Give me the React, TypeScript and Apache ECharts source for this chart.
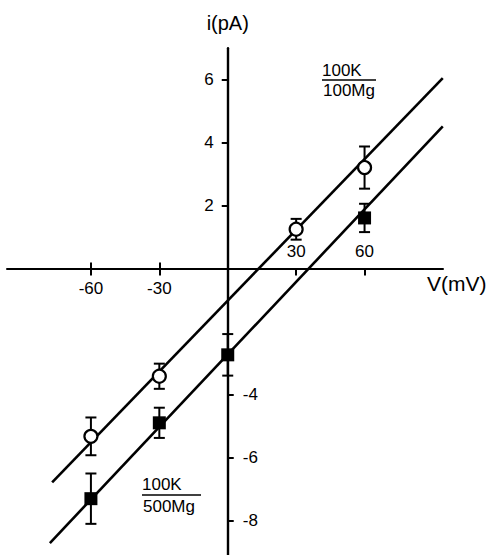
import React, { useEffect, useRef } from "react";
import * as echarts from "echarts";

// Open circles: 100K / 100Mg
const openVoltages = [-60, -30, 30, 60];
const openCurrents = [-5.33, -3.42, 1.25, 3.21];
const openErrors = [0.6, 0.4, 0.33, 0.67];

// Filled squares: 100K / 500Mg
const filledVoltages = [-60, -30, 0, 60];
const filledCurrents = [-7.31, -4.9, -2.74, 1.61];
const filledErrors = [0.8, 0.48, 0.66, 0.45];

// Regression line end points [mV, pA]
const openFitLine = [
  [-77, -6.79],
  [94.3, 6.05],
];
const filledFitLine = [
  [-78, -8.72],
  [94.3, 4.52],
];

// Tick labels
const xTicksNegative = [-60, -30];
const xTicksPositive = [30, 60];
const yTicksPositive = [2, 4, 6];
const yTicksNegative = [-4, -6, -8];

const FONT = '"Liberation Sans", Arial, Helvetica, sans-serif';
const INK = "#000";

const X_MIN = -96.8;
const X_MAX = 94.4;
const Y_MIN = -9.3;
const Y_MAX = 7;

// Plot rectangle in pixels
const PLOT_LEFT = 7;
const PLOT_TOP = 48.3;
const PLOT_W = 436;
const PLOT_H = 513;
const X0 = PLOT_LEFT + ((0 - X_MIN) / (X_MAX - X_MIN)) * PLOT_W;
const Y0 = PLOT_TOP + ((Y_MAX - 0) / (Y_MAX - Y_MIN)) * PLOT_H;

function errorBarSeries(xs: number[], ys: number[], errs: number[]) {
  return {
    type: "custom",
    z: 3,
    xAxisIndex: 0,
    yAxisIndex: 0,
    data: xs.map((x, i) => [x, ys[i], errs[i]]),
    encode: { x: 0, y: 1 },
    renderItem: (_params: any, api: any) => {
      const x = api.value(0);
      const y = api.value(1);
      const e = api.value(2);
      const top = api.coord([x, y + e]);
      const bot = api.coord([x, y - e]);
      const half = 5.5;
      const style = { stroke: INK, lineWidth: 2 };
      return {
        type: "group",
        children: [
          { type: "line", shape: { x1: top[0], y1: top[1], x2: bot[0], y2: bot[1] }, style },
          { type: "line", shape: { x1: top[0] - half, y1: top[1], x2: top[0] + half, y2: top[1] }, style },
          { type: "line", shape: { x1: bot[0] - half, y1: bot[1], x2: bot[0] + half, y2: bot[1] }, style },
        ],
      };
    },
  };
}

export default function App() {
  const ref = useRef<HTMLDivElement>(null);

  useEffect(() => {
    if (!ref.current) return;
    const chart = echarts.init(ref.current, undefined, { renderer: "svg" });

    const labelStyle = { color: INK, fontFamily: FONT, fontSize: 17 };
    const axisLine = { show: true, onZero: false, lineStyle: { color: INK, width: 2 } };
    const tickLine = { color: INK, width: 2 };
    const hidden = { show: false };
    const baseGrid = { outerBoundsMode: "none", containLabel: false, show: false };

    chart.setOption({
      animation: false,
      backgroundColor: "#fff",
      grid: [
        // 0: data area
        { ...baseGrid, left: PLOT_LEFT, top: PLOT_TOP, width: PLOT_W, height: PLOT_H },
        // 1: lower-left quadrant (negative V, negative i)
        { ...baseGrid, left: PLOT_LEFT, top: Y0, width: X0 - PLOT_LEFT, height: PLOT_TOP + PLOT_H - Y0 },
        // 2: upper-right quadrant (positive V, positive i)
        { ...baseGrid, left: X0, top: PLOT_TOP, width: PLOT_LEFT + PLOT_W - X0, height: Y0 - PLOT_TOP },
        // 3: upper-left quadrant (upper half of the crossing ticks)
        { ...baseGrid, left: PLOT_LEFT, top: PLOT_TOP, width: X0 - PLOT_LEFT, height: Y0 - PLOT_TOP },
      ],
      xAxis: [
        { type: "value", gridIndex: 0, min: X_MIN, max: X_MAX, show: false },
        {
          type: "value",
          gridIndex: 1,
          min: X_MIN,
          max: 0,
          position: "top",
          axisLine,
          axisTick: { show: true, inside: true, length: 7, customValues: xTicksNegative, lineStyle: tickLine },
          axisLabel: { show: true, inside: true, margin: 11, customValues: xTicksNegative, ...labelStyle },
          splitLine: hidden,
        },
        {
          type: "value",
          gridIndex: 2,
          min: 0,
          max: X_MAX,
          position: "bottom",
          axisLine,
          axisTick: { show: true, inside: false, length: 7, customValues: xTicksPositive, lineStyle: tickLine },
          axisLabel: { show: true, inside: true, margin: 9, customValues: xTicksPositive, ...labelStyle },
          splitLine: hidden,
          name: "V(mV)",
          nameLocation: "end",
          nameGap: -16,
          nameTextStyle: {
            color: INK,
            fontFamily: FONT,
            fontSize: 21,
            align: "left",
            verticalAlign: "top",
            padding: [4, 0, 0, 0],
          },
        },
        {
          type: "value",
          gridIndex: 3,
          min: X_MIN,
          max: 0,
          position: "bottom",
          axisLine: hidden,
          axisTick: { show: true, inside: true, length: 6, customValues: xTicksNegative, lineStyle: tickLine },
          axisLabel: hidden,
          splitLine: hidden,
        },
      ],
      yAxis: [
        { type: "value", gridIndex: 0, min: Y_MIN, max: Y_MAX, show: false },
        {
          type: "value",
          gridIndex: 1,
          min: Y_MIN,
          max: 0,
          position: "right",
          axisLine: { ...axisLine, lineStyle: { color: INK, width: 2.4 } },
          axisTick: { show: true, length: 6, customValues: yTicksNegative, lineStyle: tickLine },
          axisLabel: { show: true, margin: 15, customValues: yTicksNegative, ...labelStyle },
          splitLine: hidden,
        },
        {
          type: "value",
          gridIndex: 2,
          min: 0,
          max: Y_MAX,
          position: "left",
          axisLine: { ...axisLine, lineStyle: { color: INK, width: 2.4 } },
          axisTick: { show: true, length: 6, customValues: yTicksPositive, lineStyle: tickLine },
          axisLabel: { show: true, margin: 14, customValues: yTicksPositive, ...labelStyle },
          splitLine: hidden,
          name: "i(pA)",
          nameLocation: "end",
          nameGap: 15,
          nameTextStyle: {
            color: INK,
            fontFamily: FONT,
            fontSize: 20,
            align: "center",
            verticalAlign: "bottom",
          },
        },
        { type: "value", gridIndex: 3, min: 0, max: Y_MAX, show: false },
      ],
      graphic: [
        {
          type: "group",
          children: [
            { type: "text", left: 322, top: 62, style: { text: "100K", font: `17px ${FONT}`, fill: INK } },
            { type: "line", shape: { x1: 322, y1: 80, x2: 376, y2: 80 }, style: { stroke: INK, lineWidth: 1.6 } },
            { type: "text", left: 323, top: 82, style: { text: "100Mg", font: `17px ${FONT}`, fill: INK } },
            { type: "text", left: 142, top: 476, style: { text: "100K", font: `17px ${FONT}`, fill: INK } },
            { type: "line", shape: { x1: 142, y1: 495, x2: 201, y2: 495 }, style: { stroke: INK, lineWidth: 1.6 } },
            { type: "text", left: 143, top: 498, style: { text: "500Mg", font: `17px ${FONT}`, fill: INK } },
          ],
        },
      ],
      series: [
        {
          type: "line",
          xAxisIndex: 0,
          yAxisIndex: 0,
          data: openFitLine,
          symbol: "none",
          z: 2,
          lineStyle: { color: INK, width: 2.6 },
        },
        {
          type: "line",
          xAxisIndex: 0,
          yAxisIndex: 0,
          data: filledFitLine,
          symbol: "none",
          z: 2,
          lineStyle: { color: INK, width: 2.6 },
        },
        errorBarSeries(openVoltages, openCurrents, openErrors),
        errorBarSeries(filledVoltages, filledCurrents, filledErrors),
        {
          type: "scatter",
          xAxisIndex: 0,
          yAxisIndex: 0,
          z: 4,
          data: openVoltages.map((v, i) => [v, openCurrents[i]]),
          symbol: "circle",
          symbolSize: 13,
          itemStyle: { color: "#fff", borderColor: INK, borderWidth: 2.2, opacity: 1 },
        },
        {
          type: "scatter",
          xAxisIndex: 0,
          yAxisIndex: 0,
          z: 4,
          data: filledVoltages.map((v, i) => [v, filledCurrents[i]]),
          symbol: "rect",
          symbolSize: 13,
          itemStyle: { color: INK, opacity: 1 },
        },
      ],
    });

    return () => chart.dispose();
  }, []);

  return (
    <div
      ref={ref}
      style={{ position: "absolute", left: 0, top: 0, width: 490, height: 555 }}
    />
  );
}
